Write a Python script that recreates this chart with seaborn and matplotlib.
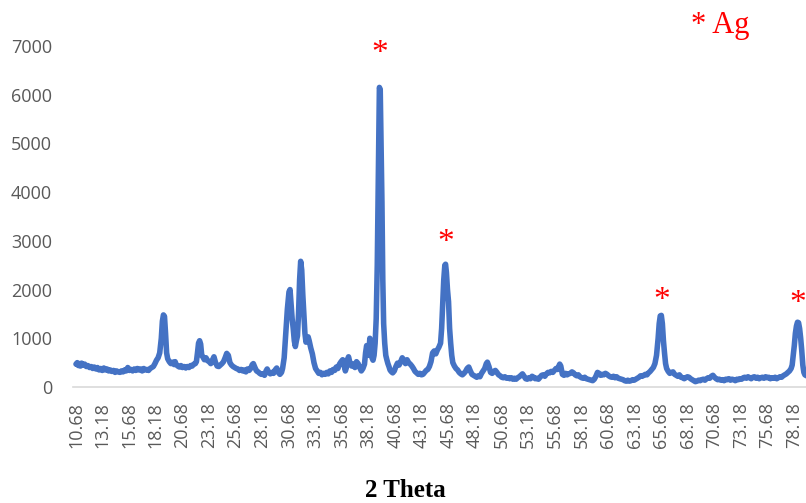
"""
XRD pattern of the Ag sample: intensity vs 2 theta, with Ag reflections starred.
"""

import matplotlib
matplotlib.use("Agg")
import matplotlib.pyplot as plt
import numpy as np
import pandas as pd
import seaborn as sns


# ---------------------------------------------------------------------------
# Data
# ---------------------------------------------------------------------------

two_theta = [
    10.68, 10.80, 10.90, 11.00, 11.10, 11.20, 11.35, 11.50, 11.65, 11.80, 11.95, 12.10,
    12.25, 12.40, 12.55, 12.70, 12.85, 13.00, 13.15, 13.30, 13.45, 13.60, 13.75, 13.90,
    14.05, 14.20, 14.35, 14.50, 14.65, 14.80, 14.95, 15.10, 15.25, 15.40, 15.55, 15.70,
    15.85, 16.00, 16.15, 16.30, 16.45, 16.60, 16.75, 16.90, 17.05, 17.20, 17.35, 17.50,
    17.65, 17.80, 17.95, 18.10, 18.25, 18.40, 18.55, 18.70, 18.80, 18.90, 19.00, 19.10,
    19.20, 19.30, 19.45, 19.60, 19.75, 19.90, 20.00, 20.10, 20.25, 20.40, 20.55, 20.70,
    20.85, 21.00, 21.15, 21.30, 21.45, 21.60, 21.75, 21.90, 22.00, 22.10, 22.20, 22.30,
    22.40, 22.50, 22.60, 22.75, 22.90, 23.05, 23.20, 23.35, 23.50, 23.65, 23.80, 23.95,
    24.10, 24.25, 24.40, 24.55, 24.70, 24.85, 25.00, 25.15, 25.30, 25.45, 25.60, 25.75,
    25.90, 26.05, 26.20, 26.35, 26.50, 26.65, 26.80, 26.95, 27.10, 27.25, 27.35, 27.50,
    27.65, 27.80, 27.95, 28.10, 28.25, 28.40, 28.55, 28.65, 28.80, 28.95, 29.10, 29.25,
    29.40, 29.55, 29.70, 29.85, 30.00, 30.10, 30.25, 30.40, 30.55, 30.70, 30.80, 30.90,
    31.00, 31.10, 31.20, 31.30, 31.40, 31.50, 31.60, 31.70, 31.80, 31.90, 32.00, 32.10,
    32.20, 32.30, 32.40, 32.50, 32.60, 32.75, 32.90, 33.05, 33.20, 33.35, 33.50, 33.65,
    33.80, 33.95, 34.10, 34.25, 34.40, 34.55, 34.70, 34.85, 35.00, 35.15, 35.30, 35.45,
    35.60, 35.75, 35.90, 36.00, 36.10, 36.20, 36.30, 36.45, 36.60, 36.75, 36.90, 37.05,
    37.20, 37.35, 37.50, 37.65, 37.80, 37.90, 38.00, 38.10, 38.20, 38.30, 38.40, 38.50,
    38.60, 38.70, 38.80, 38.90, 39.00, 39.10, 39.20, 39.28, 39.36, 39.44, 39.52, 39.60,
    39.70, 39.80, 39.90, 40.00, 40.10, 40.20, 40.30, 40.45, 40.60, 40.75, 40.90, 41.05,
    41.20, 41.35, 41.50, 41.65, 41.80, 41.95, 42.10, 42.25, 42.40, 42.55, 42.70, 42.85,
    43.00, 43.15, 43.30, 43.45, 43.60, 43.75, 43.90, 44.05, 44.20, 44.35, 44.50, 44.65,
    44.80, 44.95, 45.05, 45.15, 45.25, 45.35, 45.42, 45.50, 45.60, 45.70, 45.80, 45.90,
    46.00, 46.10, 46.25, 46.40, 46.55, 46.70, 46.85, 47.00, 47.15, 47.30, 47.45, 47.60,
    47.75, 47.90, 48.05, 48.20, 48.35, 48.50, 48.65, 48.80, 48.95, 49.10, 49.25, 49.35,
    49.50, 49.65, 49.80, 49.95, 50.10, 50.25, 50.40, 50.55, 50.70, 50.85, 51.00, 51.15,
    51.30, 51.45, 51.60, 51.75, 51.90, 52.05, 52.20, 52.35, 52.50, 52.65, 52.80, 52.95,
    53.10, 53.25, 53.40, 53.55, 53.70, 53.85, 54.00, 54.15, 54.30, 54.45, 54.60, 54.75,
    54.90, 55.05, 55.20, 55.35, 55.50, 55.65, 55.80, 55.95, 56.05, 56.15, 56.25, 56.40,
    56.55, 56.70, 56.85, 57.00, 57.15, 57.30, 57.45, 57.60, 57.75, 57.90, 58.05, 58.20,
    58.35, 58.50, 58.65, 58.80, 58.95, 59.10, 59.25, 59.40, 59.55, 59.70, 59.85, 60.00,
    60.15, 60.30, 60.45, 60.60, 60.75, 60.90, 61.05, 61.20, 61.35, 61.50, 61.65, 61.80,
    61.95, 62.10, 62.25, 62.40, 62.55, 62.70, 62.85, 63.00, 63.15, 63.30, 63.45, 63.60,
    63.75, 63.90, 64.05, 64.20, 64.35, 64.50, 64.65, 64.80, 64.95, 65.10, 65.25, 65.40,
    65.50, 65.60, 65.70, 65.80, 65.90, 66.00, 66.10, 66.20, 66.35, 66.50, 66.65, 66.80,
    66.95, 67.10, 67.25, 67.40, 67.55, 67.70, 67.85, 68.00, 68.15, 68.30, 68.45, 68.60,
    68.75, 68.90, 69.05, 69.20, 69.35, 69.50, 69.65, 69.80, 69.95, 70.10, 70.25, 70.40,
    70.55, 70.70, 70.85, 71.00, 71.15, 71.30, 71.45, 71.60, 71.75, 71.90, 72.05, 72.20,
    72.35, 72.50, 72.65, 72.80, 72.95, 73.10, 73.25, 73.40, 73.55, 73.70, 73.85, 74.00,
    74.15, 74.30, 74.45, 74.60, 74.75, 74.90, 75.05, 75.20, 75.35, 75.50, 75.65, 75.80,
    75.95, 76.10, 76.25, 76.40, 76.55, 76.70, 76.85, 77.00, 77.15, 77.30, 77.45, 77.60,
    77.75, 77.90, 78.00, 78.10, 78.20, 78.30, 78.40, 78.50, 78.60, 78.70, 78.80, 78.90,
    79.00, 79.10, 79.20, 79.35,
]

intensity = [
    470, 500, 440, 480, 430, 490, 450, 470, 420, 440, 400, 420,
    380, 410, 370, 400, 350, 380, 340, 390, 350, 370, 330, 350,
    320, 340, 300, 330, 310, 300, 330, 310, 350, 330, 400, 340,
    360, 330, 370, 340, 380, 350, 370, 330, 380, 350, 360, 340,
    380, 400, 420, 480, 550, 600, 700, 1000, 1350, 1480, 1450, 1100,
    700, 580, 520, 480, 510, 460, 520, 460, 430, 410, 440, 400,
    420, 390, 420, 400, 440, 430, 470, 480, 520, 700, 900, 950,
    880, 650, 620, 560, 600, 540, 520, 480, 550, 620, 500, 430,
    420, 450, 480, 520, 600, 690, 650, 500, 450, 420, 400, 380,
    370, 340, 360, 330, 350, 310, 370, 340, 380, 460, 480, 400,
    330, 310, 280, 260, 270, 240, 330, 370, 300, 270, 300, 280,
    350, 390, 300, 260, 300, 380, 600, 1100, 1600, 1950, 2000, 1700,
    1400, 1200, 950, 830, 950, 1050, 1500, 2200, 2580, 2400, 1900, 1500,
    1100, 920, 980, 1030, 950, 800, 680, 500, 380, 330, 280, 300,
    250, 280, 260, 300, 270, 330, 300, 360, 340, 410, 380, 470,
    520, 560, 430, 330, 400, 560, 620, 480, 430, 470, 400, 520,
    480, 400, 330, 380, 470, 700, 850, 750, 650, 1000, 900, 600,
    550, 650, 900, 1400, 2500, 4300, 6150, 6100, 5000, 3800, 2200, 1300,
    900, 650, 560, 480, 420, 350, 320, 290, 330, 420, 490, 450,
    520, 600, 540, 480, 560, 500, 470, 430, 380, 320, 290, 260,
    280, 250, 260, 300, 340, 360, 420, 520, 700, 740, 680, 760,
    820, 900, 1200, 1700, 2200, 2500, 2520, 2350, 2000, 1750, 1200, 900,
    650, 500, 430, 380, 350, 300, 270, 250, 280, 320, 380, 410,
    330, 260, 240, 220, 200, 230, 210, 280, 330, 380, 480, 510,
    420, 300, 280, 320, 340, 300, 250, 230, 200, 190, 210, 180,
    190, 170, 190, 160, 180, 160, 190, 210, 240, 270, 220, 170,
    160, 190, 170, 220, 200, 170, 180, 160, 200, 240, 250, 220,
    270, 300, 290, 320, 300, 340, 380, 360, 420, 470, 430, 260,
    240, 280, 250, 270, 280, 310, 290, 250, 230, 250, 210, 190,
    180, 200, 170, 160, 150, 140, 130, 160, 220, 300, 280, 240,
    260, 250, 280, 260, 230, 210, 200, 220, 190, 210, 180, 170,
    160, 150, 130, 120, 140, 120, 130, 150, 140, 160, 180, 200,
    230, 220, 240, 260, 250, 290, 320, 360, 400, 480, 650, 1000,
    1300, 1460, 1470, 1300, 950, 700, 480, 380, 320, 280, 300, 310,
    260, 240, 220, 250, 200, 190, 170, 190, 210, 200, 170, 150,
    130, 110, 120, 140, 130, 150, 160, 140, 170, 190, 180, 220,
    240, 200, 170, 150, 160, 140, 150, 130, 160, 150, 170, 140,
    160, 150, 130, 160, 150, 170, 160, 190, 200, 180, 210, 190,
    170, 200, 210, 180, 200, 170, 190, 200, 180, 210, 190, 200,
    170, 190, 180, 200, 170, 190, 210, 200, 230, 250, 270, 300,
    330, 380, 450, 650, 850, 1100, 1250, 1330, 1320, 1200, 1000, 750,
    450, 300, 250, 230,
]

# Ag reflections marked with an asterisk (x, baseline height of the star)
ag_peaks = [39.25, 45.45, 65.70, 78.55]
ag_star_y = [6680, 2800, 1600, 1540]

x_ticks = [10.68, 13.18, 15.68, 18.18, 20.68, 23.18, 25.68, 28.18, 30.68, 33.18,
           35.68, 38.18, 40.68, 43.18, 45.68, 48.18, 50.68, 53.18, 55.68, 58.18,
           60.68, 63.18, 65.68, 68.18, 70.68, 73.18, 75.68, 78.18]
y_ticks = [0, 1000, 2000, 3000, 4000, 5000, 6000, 7000]

df = pd.DataFrame({"two_theta": two_theta, "intensity": intensity})

# ---------------------------------------------------------------------------
# Plot
# ---------------------------------------------------------------------------

sns.set_style("white")
plt.rcParams["font.family"] = ["Open Sans", "DejaVu Sans"]

fig = plt.figure(figsize=(8.06, 5.03), dpi=100)
ax = fig.add_axes([73 / 806, 116 / 503, 733 / 806, 341 / 503])

sns.lineplot(data=df, x="two_theta", y="intensity", ax=ax, color="#4472C4",
             linewidth=4.0, estimator=None, sort=False,
             solid_joinstyle="round", solid_capstyle="round")

ax.set_xlim(10.40, 79.30)
ax.set_ylim(0, 7000)
ax.set_xticks(x_ticks)
ax.set_xticklabels([f"{t:.2f}" for t in x_ticks], rotation=90)
ax.set_yticks(y_ticks)
ax.tick_params(axis="both", length=0, labelsize=13, labelcolor="#595959")
ax.tick_params(axis="x", pad=11)
ax.tick_params(axis="y", pad=15)
ax.set_xlabel("")
ax.set_ylabel("")

for side in ["top", "right", "left"]:
    ax.spines[side].set_visible(False)
ax.spines["bottom"].set_color("#d9d9d9")
ax.spines["bottom"].set_linewidth(1.2)

for px, py in zip(ag_peaks, ag_star_y):
    ax.text(px, py, "*", ha="center", va="baseline", color="#ff0000",
            fontsize=24, family="Liberation Serif", clip_on=False)

fig.text(405 / 806, 0.012, "2 Theta", ha="center", va="baseline",
         fontsize=18, fontweight="bold", family="Liberation Serif", color="black")
fig.text(691 / 806, 0.934, "* Ag", ha="left", va="baseline",
         fontsize=22, family="Liberation Serif", color="#ff0000")

fig.savefig("out.png", dpi=100)
plt.close(fig)
print("Saved: out.png")
